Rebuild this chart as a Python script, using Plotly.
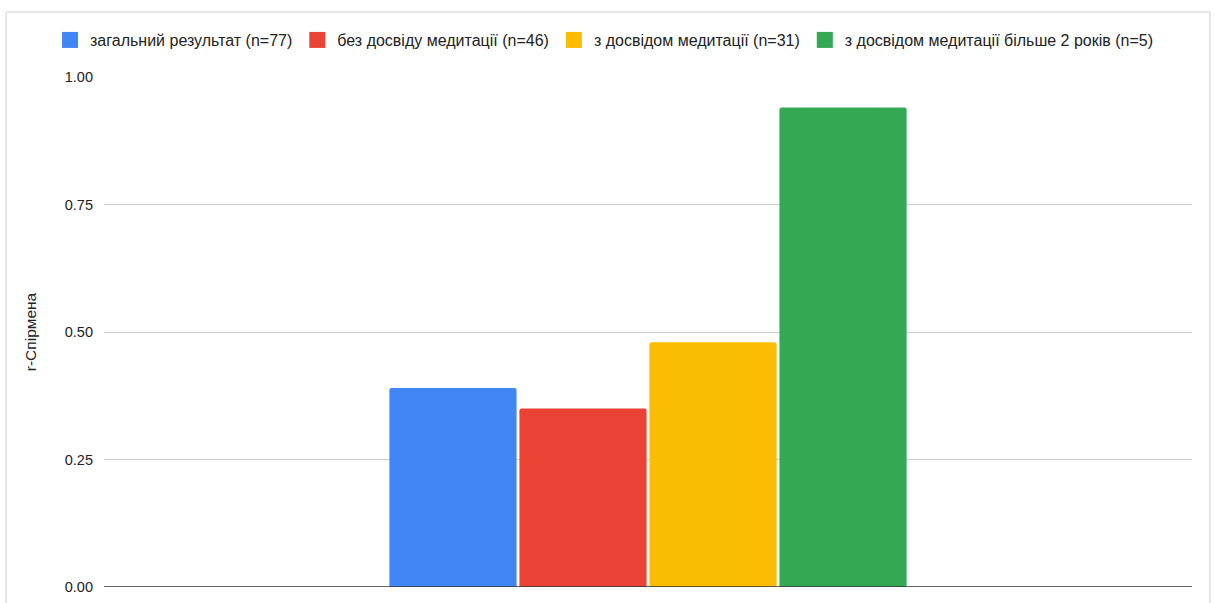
import plotly.graph_objects as go

# Spearman correlation by group
series_names = [
    "загальний результат (n=77)",
    "без досвіду медитації (n=46)",
    "з досвідом медитації (n=31)",
    "з досвідом медитації більше 2 років (n=5)",
]
r_values = [0.39, 0.35, 0.48, 0.94]
colors = ["#4285F4", "#EA4335", "#FBBC04", "#34A853"]
category = [""]
y_ticks = [0, 0.25, 0.5, 0.75, 1.0]
y_tick_labels = ["0.00", "0.25", "0.50", "0.75", "1.00"]

FONT = "Liberation Sans, Arial, Helvetica, sans-serif"

fig = go.Figure()
for name, val, col in zip(series_names, r_values, colors):
    fig.add_trace(go.Bar(
        x=category, y=[val], name=name, legendgroup=name, showlegend=False,
        marker=dict(color=col, line=dict(width=0)),
        hoverinfo="y+name",
    ))
# legend entries drawn as larger squares
for name, col in zip(series_names, colors):
    fig.add_trace(go.Scatter(
        x=category, y=[None], name=name, legendgroup=name, mode="markers",
        marker=dict(symbol="square", size=16, color=col),
        hoverinfo="skip",
    ))

fig.update_layout(
    width=1215, height=603,
    margin=dict(l=104, r=23, t=77, b=16),
    paper_bgcolor="white", plot_bgcolor="white",
    font=dict(family=FONT, size=14, color="#222222"),
    barmode="group",
    bargap=0.522,
    bargroupgap=0.022,
    barcornerradius=2,
    showlegend=True,
    legend=dict(
        orientation="h", x=-0.0496, xanchor="left", y=1.0725, yanchor="middle",
        font=dict(family=FONT, size=16, color="#222222"),
        bgcolor="rgba(0,0,0,0)", traceorder="normal",
    ),
    xaxis=dict(showticklabels=False, showgrid=False, zeroline=False, showline=False,
               ticks="", automargin=False),
    yaxis=dict(
        range=[0, 1.0], tickvals=y_ticks, ticktext=y_tick_labels,
        tickfont=dict(family=FONT, size=14.5, color="#222222"),
        showgrid=True, gridcolor="#cccccc", gridwidth=1,
        zeroline=False, showline=False, ticks="", ticklabelstandoff=10,
        automargin=False,
        title=dict(text="r-Спірмена", font=dict(family=FONT, size=15.5, color="#222222"),
                   standoff=24),
    ),
    shapes=[
        # baseline at zero
        dict(type="line", xref="paper", yref="y", x0=0, x1=1, y0=0, y1=0,
             line=dict(color="#333333", width=1.5), layer="above"),
        # outer frame
        dict(type="rect", xref="paper", yref="paper",
             x0=-0.0901, x1=1.0165, y0=-0.2, y1=1.1275,
             line=dict(color="#cfcfcf", width=1), fillcolor="rgba(0,0,0,0)", layer="below"),
    ],
)

fig.write_html("out.html")
